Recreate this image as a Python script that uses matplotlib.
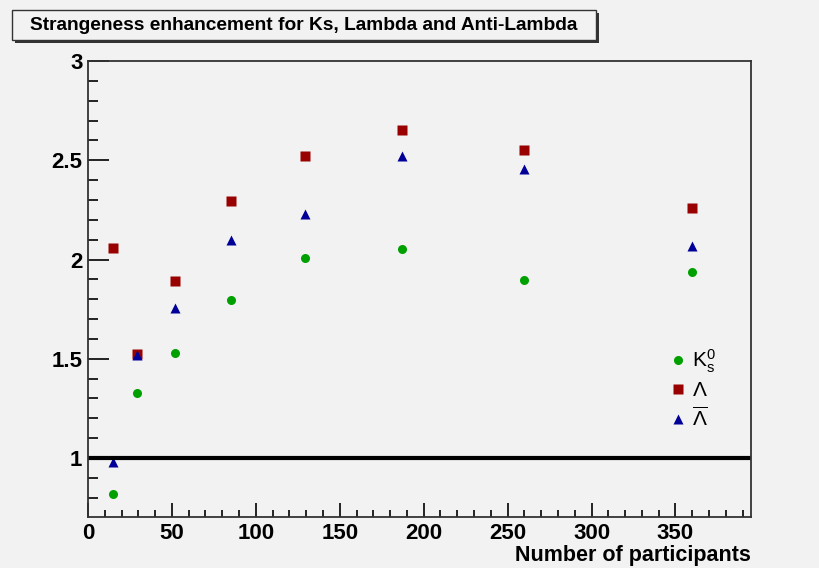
import matplotlib.pyplot as plt
from matplotlib.patches import Rectangle

plt.rcParams['font.family'] = ['Liberation Sans', 'DejaVu Sans']
plt.rcParams['mathtext.fontset'] = 'custom'
plt.rcParams['mathtext.rm'] = 'Liberation Sans'
plt.rcParams['mathtext.it'] = 'Liberation Sans'

npart = [15, 29, 52, 85, 129, 187, 260, 360]
ks = [0.82, 1.33, 1.53, 1.795, 2.01, 2.055, 1.895, 1.935]
lam = [2.06, 1.525, 1.89, 2.295, 2.52, 2.65, 2.55, 2.26]
alam = [0.98, 1.52, 1.755, 2.10, 2.23, 2.52, 2.455, 2.07]

bg = '#f2f2f2'
fig = plt.figure(figsize=(8.19, 5.68), dpi=100)
fig.patch.set_facecolor(bg)
W, H = 819, 568
ax = fig.add_axes([88 / W, 1 - 517 / H, (751 - 88) / W, (517 - 61) / H])
ax.set_facecolor(bg)

ax.plot(npart, ks, 'o', color='#00a000', ms=6.5, mec='none', label=r'$\mathrm{K^0_s}$')
ax.plot(npart, lam, 's', color='#990000', ms=7, mec='none', label=r'$\Lambda$')
ax.plot(npart, alam, '^', color='#000099', ms=6.5, mec='none', label=r'$\overline{\Lambda}$')
ax.axhline(1, color='black', lw=3)

ax.set_xlim(0, 395)
ax.set_ylim(0.703, 3)
ax.set_xticks(range(0, 400, 50))
ax.set_xticks(range(0, 395, 10), minor=True)
ax.set_yticks([1, 1.5, 2, 2.5, 3])
ax.set_yticks([0.8 + 0.1 * i for i in range(23)], minor=True)
ax.set_yticklabels(['1', '1.5', '2', '2.5', '3'])
ax.tick_params(direction='in', which='both', width=1.2, labelsize=16,
               top=False, right=False, pad=4)
ax.tick_params(axis='x', which='major', length=10)
ax.tick_params(axis='x', which='minor', length=5)
ax.tick_params(axis='y', which='major', length=15)
ax.tick_params(axis='y', which='minor', length=7)
for lbl in ax.get_xticklabels() + ax.get_yticklabels():
    lbl.set_fontweight('bold')
for s in ax.spines.values():
    s.set_linewidth(1.3)
    s.set_color('#333333')

ax.set_xlabel('Number of participants', fontsize=15.5, fontweight='bold',
              loc='right', labelpad=1)

leg = ax.legend(loc='lower right', bbox_to_anchor=(0.975, 0.15), frameon=False,
                fontsize=15, handletextpad=0.15, handlelength=1.0,
                labelspacing=0.3, markerscale=1.0)

# title box with shadow
fig.patches.append(Rectangle((15 / W, 1 - 43 / H), 584 / W, 30 / H,
                             transform=fig.transFigure, facecolor='#333333',
                             edgecolor='none'))
fig.patches.append(Rectangle((12 / W, 1 - 40 / H), 584 / W, 30 / H,
                             transform=fig.transFigure, facecolor=bg,
                             edgecolor='#333333', lw=1))
fig.text(304 / W, 1 - 25 / H, 'Strangeness enhancement for Ks, Lambda and Anti-Lambda',
         ha='center', va='center', fontsize=13.8, fontweight='bold')

plt.savefig('out.png', dpi=100, facecolor=bg)
